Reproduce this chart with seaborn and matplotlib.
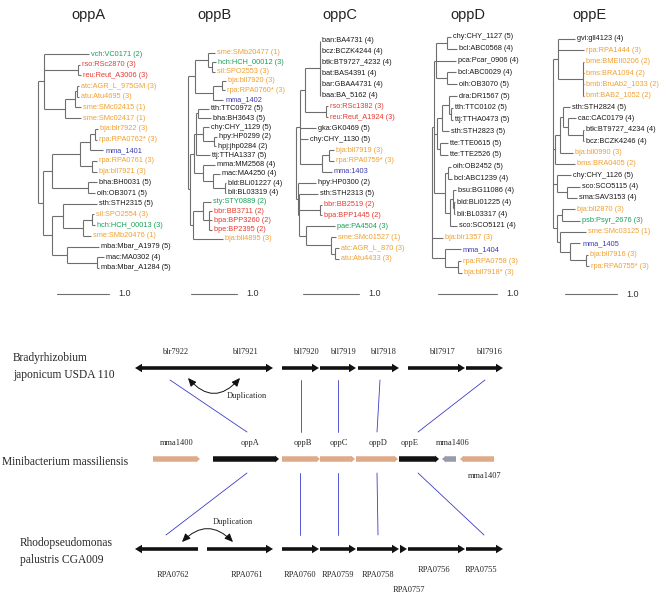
import numpy as np
import pandas as pd
import matplotlib
matplotlib.use("Agg")
import matplotlib.pyplot as plt
import seaborn as sns
from matplotlib.patches import FancyArrow, FancyArrowPatch
from matplotlib.path import Path
from matplotlib.collections import LineCollection

sns.set_theme(style="white")
plt.rcParams['font.family'] = ['Liberation Sans', 'DejaVu Sans']

# ---------------- DATA: phylogenetic trees ----------------
# leaf = (label, depth, colour-key); node = (depth, [children]); depth in tree units
oppA_tree = (0.0, [
    (0.12, [
        ("vch:VC0171 (2)", 0.98, 'g'),
        (0.77, [("rso:RSc2870 (3)", 0.81, 'r'), ("reu:Reut_A3006 (3)", 0.83, 'r')]),
        (0.52, [
            (0.71, [
                (0.75, [("atc:AGR_L_975GM (3)", 0.79, 'o'), ("atu:Atu4695 (3)", 0.79, 'o')]),
                ("sme:SMc02415 (1)", 0.83, 'o')]),
            ("sme:SMc02417 (1)", 0.83, 'o')]),
    ]),
    (0.10, [
        (0.27, [
            (0.81, [
                (1.00, [(1.10, [("bja:blr7922 (3)", 1.15, 'o'), ("rpa:RPA0762* (3)", 1.13, 'o')]),
                        ("mma_1401", 1.25, 'b')]),
                (1.04, [("rpa:RPA0761 (3)", 1.13, 'o'), ("bja:bll7921 (3)", 1.13, 'o')])]),
            (0.96, [("bha:BH0031 (5)", 1.13, 'k'), ("oih:OB3071 (5)", 1.10, 'k')])]),
        (0.27, [
            (0.48, [("sth:STH2315 (5)", 1.13, 'k'),
                    (0.87, [(1.04, [("sil:SPO2554 (3)", 1.08, 'o'), ("hch:HCH_00013 (3)", 1.10, 'g')]),
                            ("sme:SMb20476 (1)", 1.02, 'o')])]),
            (0.56, [("mba:Mbar_A1979 (5)", 1.17, 'k'),
                    (1.13, [("mac:MA0302 (4)", 1.27, 'k'), ("mba:Mbar_A1284 (5)", 1.17, 'k')])])]),
    ]),
])

oppB_tree = (0.0, [
    (0.15, [
        (0.43, [("sme:SMb20477 (1)", 0.59, 'o'),
                (0.52, [("hch:HCH_00012 (3)", 0.61, 'g'), ("sil:SPO2553 (3)", 0.59, 'o')])]),
        (0.54, [(0.74, [("bja:bll7920 (3)", 0.83, 'o'), ("rpa:RPA0760* (3)", 0.80, 'o')]),
                ("mma_1402", 0.76, 'b')]),
    ]),
    (0.04, [
        (0.13, [
            (0.17, [
                (0.22, [("tth:TTC0972 (5)", 0.46, 'k'), ("bha:BH3643 (5)", 0.50, 'k')]),
                (0.33, [("chy:CHY_1129 (5)", 0.46, 'k'),
                        (0.57, [("hpy:HP0299 (2)", 0.63, 'k'), ("hpj:jhp0284 (2)", 0.61, 'k')])]),
                ("ttj:TTHA1337 (5)", 0.48, 'k')]),
            (0.33, [("mma:MM2568 (4)", 0.59, 'k'),
                    (0.54, [("mac:MA4250 (4)", 0.70, 'k'),
                            (0.81, [("bld:BLi01227 (4)", 0.83, 'k'), ("bli:BL03319 (4)", 0.83, 'k')])])]),
        ]),
        (0.11, [
            (0.33, [("sty:STY0889 (2)", 0.50, 'g'),
                    (0.46, [("bbr:BB3711 (2)", 0.52, 'r'), ("bpa:BPP3260 (2)", 0.52, 'r'),
                            ("bpe:BP2395 (2)", 0.52, 'r')])]),
            ("bja:bll4895 (3)", 0.76, 'o')]),
    ]),
])

oppC_tree = (0.0, [
    (0.07, [
        (0.16, [
            (0.42, [("ban:BA4731 (4)", 0.43, 'k'), ("bcz:BCZK4244 (4)", 0.43, 'k'),
                    ("btk:BT9727_4232 (4)", 0.43, 'k'), ("bat:BAS4391 (4)", 0.43, 'k'),
                    ("bar:GBAA4731 (4)", 0.43, 'k'), ("baa:BA_5162 (4)", 0.43, 'k')]),
            (0.54, [("rso:RSc1382 (3)", 0.57, 'r'), ("reu:Reut_A1924 (3)", 0.57, 'r')])]),
        ("gka:GK0469 (5)", 0.36, 'k'),
        ("chy:CHY_1130 (5)", 0.21, 'k'),
        (0.46, [(0.59, [("bja:bll7919 (3)", 0.68, 'o'), ("rpa:RPA0759* (3)", 0.68, 'o')]),
                ("mma:1403", 0.64, 'b')]),
    ]),
    (0.04, [
        ("hpy:HP0300 (2)", 0.36, 'k'),
        (0.05, [
            ("sth:STH2313 (5)", 0.39, 'k'),
            (0.43, [("bbr:BB2519 (2)", 0.46, 'r'), ("bpa:BPP1445 (2)", 0.46, 'r')]),
            (0.18, [("pae:PA4504 (3)", 0.70, 'g'),
                    (0.63, [("sme:SMc01527 (1)", 0.71, 'o'),
                            (0.70, [("atc:AGR_L_870 (3)", 0.77, 'o'), ("atu:Atu4433 (3)", 0.77, 'o')])])]),
        ]),
    ]),
])

oppD_tree = (0.0, [
    (0.03, [
        (0.07, [(0.25, [("chy:CHY_1127 (5)", 0.32, 'k'), ("bcl:ABC0568 (4)", 0.42, 'k')]),
                ("pca:Pcar_0906 (4)", 0.40, 'k'),
                (0.25, [("bcl:ABC0029 (4)", 0.41, 'k'), ("oih:OB3070 (5)", 0.42, 'k')])]),
        (0.08, [(0.17, [(0.29, [("dra:DR1567 (5)", 0.42, 'k'),
                                (0.33, [("tth:TTC0102 (5)", 0.35, 'k'), ("ttj:TTHA0473 (5)", 0.36, 'k')])]),
                        ("sth:STH2823 (5)", 0.29, 'k')]),
                (0.14, [("tte:TTE0615 (5)", 0.27, 'k'), ("tte:TTE2526 (5)", 0.27, 'k')])]),
        (0.22, [(0.27, [("oih:OB2452 (5)", 0.32, 'k'), ("bcl:ABC1239 (4)", 0.34, 'k')]),
                (0.31, [(0.36, [("bsu:BG11086 (4)", 0.41, 'k'),
                                (0.38, [("bld:BLi01225 (4)", 0.39, 'k'), ("bli:BL03317 (4)", 0.39, 'k')])]),
                        ("sco:SCO5121 (4)", 0.42, 'k')])]),
    ]),
    ("bja:blr1357 (3)", 0.19, 'o'),
    (0.22, [("mma_1404", 0.49, 'b'),
            (0.44, [("rpa:RPA0758 (3)", 0.49, 'o'), ("bja:bll7918* (3)", 0.51, 'o')])]),
])

oppE_tree = (0.0, [
    (0.10, [("gvi:gll4123 (4)", 0.42, 'k'), ("rpa:RPA1444 (3)", 0.60, 'o'),
            (0.58, [("bme:BMEII0206 (2)", 0.60, 'o'), ("bms:BRA1094 (2)", 0.60, 'o'),
                    ("bmb:BruAb2_1033 (2)", 0.60, 'o'), ("bmf:BAB2_1052 (2)", 0.60, 'o')])]),
    (0.04, [(0.13, [(0.19, [("sth:STH2824 (5)", 0.33, 'k'),
                            (0.29, [("cac:CAC0179 (4)", 0.44, 'k'),
                                    (0.58, [("btk:BT9727_4234 (4)", 0.60, 'k'), ("bcz:BCZK4246 (4)", 0.60, 'k')])])]),
                    ("bja:bll0990 (3)", 0.38, 'o')]),
            ("bms:BRA0405 (2)", 0.42, 'o')]),
    (0.08, [("chy:CHY_1126 (5)", 0.35, 'k'),
            (0.27, [("sco:SCO5115 (4)", 0.52, 'k'), ("sma:SAV3153 (4)", 0.46, 'k')])]),
    (0.08, [(0.17, [("bja:bll2870 (3)", 0.42, 'o'), ("psb:Psyr_2676 (3)", 0.52, 'g')]),
            (0.13, [("sme:SMc03125 (1)", 0.63, 'o'),
                    (0.33, [("mma_1405", 0.52, 'b'),
                            (0.63, [("bja:bll7916 (3)", 0.67, 'o'), ("rpa:RPA0755* (3)", 0.69, 'o')])])])]),
])

tree_names = ["oppA", "oppB", "oppC", "oppD", "oppE"]
trees = [oppA_tree, oppB_tree, oppC_tree, oppD_tree, oppE_tree]
scale_value = 1.0

# ---------------- DATA: gene neighbourhoods ----------------
brady_genes = ["blr7922", "bll7921", "bll7920", "bll7919", "bll7918", "bll7917", "bll7916"]
brady_start = [135, 206, 282, 320, 358, 408, 466]
brady_end = [206, 273, 319, 356, 399, 465, 503]
brady_strand = [-1, 1, 1, 1, 1, 1, 1]

mma_genes = ["mma1400", "oppA", "oppB", "oppC", "oppD", "oppE", "mma1406", "mma1407"]
mma_start = [153, 213, 282, 320, 356, 399, 442, 460]
mma_end = [200, 279, 320, 355, 398, 439, 456, 494]
mma_strand = [1, 1, 1, 1, 1, 1, -1, -1]
mma_kind = ["other", "opp", "other", "other", "other", "opp", "small", "other"]

rpa_genes = ["RPA0762", "RPA0761", "RPA0760", "RPA0759", "RPA0758", "RPA0757", "RPA0756", "RPA0755"]
rpa_start = [135, 207, 282, 320, 357, 400, 408, 466]
rpa_end = [198, 273, 319, 356, 399, 407, 465, 503]
rpa_strand = [-1, 1, 1, 1, 1, 1, 1, 1]

# orthology links (x on upper row -> x on lower row)
link_brady_x = [170, 301, 338, 380, 485]
link_mma_top_x = [247, 301, 338, 377, 418]
link_mma_bot_x = [247, 300, 338, 377, 418]
link_rpa_x = [166, 300, 338, 378, 484]

# ---------------- STYLE / LAYOUT ----------------
W, H = 669, 594
fig = plt.figure(figsize=(W / 100, H / 100), dpi=100)
label_colors = {'k': '#1a1a1a', 'o': '#f0a030', 'r': '#e83a30', 'g': '#1aa05a', 'b': '#3a3ab4'}
branch_color = '#6e6e6e'

# per tree: root x(px), px per unit, first leaf y, last leaf y, scale bar x, title x
tree_layout = [
    (38, 52, 54, 268, 57, 88),
    (188, 46, 53, 239, 191, 214),
    (296, 56, 41, 259, 303, 340),
    (432, 59, 37, 273, 438, 468),
    (553, 52, 39, 266, 565, 589),
]
scale_y = 294

ax0 = fig.add_axes([0, 0, 1, 1])
ax0.set_xlim(0, W)
ax0.set_ylim(H, 0)
ax0.axis('off')


def layout(node, leaves, segs, parent_depth):
    if isinstance(node[0], str):
        label, depth, col = node
        y = len(leaves)
        leaves.append((label, depth, col, y))
        segs.append([(parent_depth, y), (depth, y)])
        return y
    depth, children = node
    ys = [layout(c, leaves, segs, depth) for c in children]
    y = (ys[0] + ys[-1]) / 2
    segs.append([(depth, ys[0]), (depth, ys[-1])])
    if parent_depth is not None:
        segs.append([(parent_depth, y), (depth, y)])
    return y


for name, tree, (rx, S, yf, yl, sbx, tx) in zip(tree_names, trees, tree_layout):
    leaves, segs = [], []
    layout(tree, leaves, segs, None)
    n = len(leaves)
    x0, x1 = rx - 4, rx + 110
    ax = fig.add_axes([x0 / W, 1 - yl / H, (x1 - x0) / W, (yl - yf) / H])
    ax.set_xlim((x0 - rx) / S, (x1 - rx) / S)
    ax.set_ylim(n - 1, 0)
    ax.axis('off')
    ax.add_collection(LineCollection(segs, colors=branch_color, linewidths=0.8, clip_on=False))
    for label, depth, col, y in leaves:
        ax.annotate(label, (depth, y), xytext=(1.5, 0), textcoords='offset points',
                    va='center', ha='left', fontsize=5.3, color=label_colors[col],
                    annotation_clip=False)
    # scale bar
    sy = (scale_y - yf) / (yl - yf) * (n - 1)
    sx = (sbx - rx) / S
    ax.plot([sx, sx + scale_value], [sy, sy], color=branch_color, lw=0.8, clip_on=False)
    ax.annotate(f"{scale_value:.1f}", (sx + scale_value, sy), xytext=(7, 0), textcoords='offset points',
                va='center', ha='left', fontsize=6.5, color='#333333', annotation_clip=False)
    ax0.text(tx, 15, name, ha='center', va='center', fontsize=10.5, color='#222222')

# ---------------- gene diagram ----------------
serif = ['Liberation Serif', 'DejaVu Serif']
row_y = {'brady': 368, 'mma': 459, 'rpa': 549}
kind_color = {'opp': '#111111', 'other': '#deaa88', 'small': '#9a9aaa'}


def draw_genes(starts, ends, strands, colors, y, width, hw, hl):
    for s, e, d, c in zip(starts, ends, strands, colors):
        x, dx = (s, e - s) if d > 0 else (e, s - e)
        ax0.add_patch(FancyArrow(x, y, dx, 0, width=width, head_width=hw, head_length=min(hl, abs(dx)),
                                 length_includes_head=True, color=c, lw=0))


draw_genes(brady_start, brady_end, brady_strand, ['#111111'] * len(brady_genes),
           row_y['brady'], 3.6, 8.5, 7)
draw_genes(mma_start, mma_end, mma_strand, [kind_color[k] for k in mma_kind],
           row_y['mma'], 5.5, 7, 4)
draw_genes(rpa_start, rpa_end, rpa_strand, ['#111111'] * len(rpa_genes),
           row_y['rpa'], 3.6, 8.5, 7)

# gene labels
for g, s, e in zip(brady_genes, brady_start, brady_end):
    ax0.text((s + e) / 2 + 5, row_y['brady'] - 16, g, ha='center', va='center', fontsize=6, family=serif)
mma_label_shift = [0, 4, 2, 1, 1, -9, 4, 8]
for g, s, e, sh in zip(mma_genes, mma_start, mma_end, mma_label_shift):
    yy = row_y['mma'] - 16 if g != "mma1407" else row_y['mma'] + 17
    ax0.text((s + e) / 2 + sh, yy, g, ha='center', va='center', fontsize=6, family=serif)
rpa_label_shift = [6, 7, 0, 0, 0, 5, -2, -3]
rpa_label_dy = [26, 26, 26, 26, 26, 41, 21, 21]
for g, s, e, sh, dy in zip(rpa_genes, rpa_start, rpa_end, rpa_label_shift, rpa_label_dy):
    ax0.text((s + e) / 2 + sh, row_y['rpa'] + dy, g, ha='center', va='center', fontsize=6, family=serif)

# species names
ax0.text(13, 358, "Bradyrhizobium", ha='left', va='center', fontsize=8.3, family=serif)
ax0.text(13, 375, "japonicum USDA 110", ha='left', va='center', fontsize=8.3, family=serif)
ax0.text(2, 462, "Minibacterium massiliensis", ha='left', va='center', fontsize=8.3, family=serif)
ax0.text(20, 543, "Rhodopseudomonas", ha='left', va='center', fontsize=8.3, family=serif)
ax0.text(20, 560, "palustris CGA009", ha='left', va='center', fontsize=8.3, family=serif)

# orthology links drawn with seaborn
rows = []
for i, (a, b) in enumerate(zip(link_brady_x, link_mma_top_x)):
    rows += [dict(seg=f"u{i}", x=a, y=row_y['brady'] + 12), dict(seg=f"u{i}", x=b, y=row_y['mma'] - 27)]
for i, (a, b) in enumerate(zip(link_mma_bot_x, link_rpa_x)):
    rows += [dict(seg=f"l{i}", x=a, y=row_y['mma'] + 14), dict(seg=f"l{i}", x=b, y=row_y['rpa'] - 14)]
links = pd.DataFrame(rows)
sns.lineplot(data=links, x='x', y='y', units='seg', estimator=None, sort=False,
             color='#3c3cc8', lw=0.6, ax=ax0, legend=False)
ax0.set_xlim(0, W)
ax0.set_ylim(H, 0)
ax0.axis('off')

# duplication arrows: quadratic curve, sag > 0 means bulging downward on the page
for (xa, xb, y, sag, tx, ty) in [(188, 240, 378, 15, 247, 396), (182, 233, 542, -13, 233, 522)]:
    p = Path([(xa, y), ((xa + xb) / 2, y + 2 * sag), (xb, y)], [Path.MOVETO, Path.CURVE3, Path.CURVE3])
    ax0.add_patch(FancyArrowPatch(path=p, arrowstyle="<|-|>,head_length=0.5,head_width=0.22",
                                  mutation_scale=10, color='#111111', lw=0.7))
    ax0.text(tx, ty, "Duplication", ha='center', va='center', fontsize=6, family=serif)

fig.savefig("out.png", dpi=100)
